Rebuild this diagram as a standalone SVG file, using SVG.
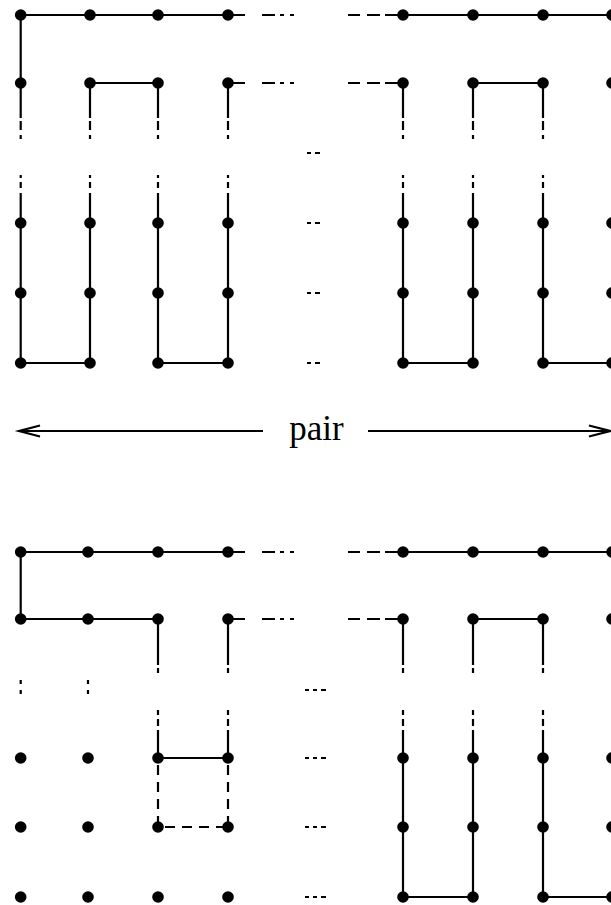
<svg xmlns="http://www.w3.org/2000/svg" width="611" height="905" viewBox="0 0 611 905">
<style>
.node circle{fill:#000}
.ln{stroke:#000;stroke-width:2.2;fill:none;stroke-linecap:butt}
.dash{stroke-dasharray:10 7}
.lbl{font-family:"Liberation Serif","Times New Roman",serif;font-size:35px;fill:#000}
</style>
<rect width="611" height="905" fill="#fff"/>
<g id="connectors">
<path class="ln" d="M20.7,15H228 M403,15H612 M20.7,15V83 M90,83H158 M473,83H543
M228,15H245 M262,15H275 M280,15H284 M290,15H294 M228,83H245 M262,83H275 M280,83H284 M290,83H294
M348,15H360 M367,15H380 M385,15H403 M348,83H360 M367,83H380 M385,83H403
M20.7,83V118 M20.7,121V130 M20.7,135V139 M90,83V118 M90,121V130 M90,135V139 M158,83V118 M158,121V130 M158,135V139 M228,83V118 M228,121V130 M228,135V139
M403,83V118 M403,121V130 M403,135V139 M473,83V118 M473,121V130 M473,135V139 M543,83V118 M543,121V130 M543,135V139
M20.7,175V178 M20.7,182V188 M20.7,193V223 M90,175V178 M90,182V188 M90,193V223 M158,175V178 M158,182V188 M158,193V223 M228,175V178 M228,182V188 M228,193V223
M403,175V178 M403,182V188 M403,193V223 M473,175V178 M473,182V188 M473,193V223 M543,175V178 M543,182V188 M543,193V223
M20.7,223V363 M90,223V363 M158,223V363 M228,223V363 M403,223V363 M473,223V363 M543,223V363
M20.7,363H90 M158,363H228 M403,363H473 M543,363H612
M307,153H311 M315,153H320 M307,223H311 M315,223H320 M307,293H311 M315,293H320 M307,363H311 M315,363H320"/>
<path class="ln" d="M19,431H263 M368,431H610 M40,425.5L19,431L40,436.5 M589,425.5L610,431L589,436.5"/>
<path class="ln" d="M20.7,552H228 M403,552H612 M20.7,552V619 M20.7,619H158 M473,619H543
M228,552H245 M262,552H275 M280,552H284 M290,552H294 M228,619H245 M262,619H275 M280,619H284 M290,619H294
M348,552H360 M367,552H380 M385,552H403 M348,619H360 M367,619H380 M385,619H403
M158,619V665 M158,668V673 M228,619V665 M228,668V673 M403,619V665 M403,668V673 M473,619V665 M473,668V673 M543,619V665 M543,668V673
M20.7,680V684 M20.7,690V694 M88,680V684 M88,690V694
M158,710V715 M158,719V726 M158,730V758 M228,710V715 M228,719V726 M228,730V758
M403,710V715 M403,719V726 M403,730V758 M473,710V715 M473,719V726 M473,730V758 M543,710V715 M543,719V726 M543,730V758
M158,758H228
M403,758V897 M473,758V897 M543,758V897
M403,897H473 M543,897H612
M305,690H309 M313,690H317 M321,690H326 M305,758H309 M313,758H317 M321,758H326 M305,827H309 M313,827H317 M321,827H326 M305,897H309 M313,897H317 M321,897H326"/>
<path class="ln dash" d="M158,765V827 M228,765V827 M165,827H228"/>
</g>
<text class="lbl" x="316.5" y="440" text-anchor="middle">pair</text>
<g id="t-1-1" class="node"><circle cx="20.7" cy="15" r="5.8"/></g>
<g id="t-1-2" class="node"><circle cx="90" cy="15" r="5.8"/></g>
<g id="t-1-3" class="node"><circle cx="158" cy="15" r="5.8"/></g>
<g id="t-1-4" class="node"><circle cx="228" cy="15" r="5.8"/></g>
<g id="t-1-5" class="node"><circle cx="403" cy="15" r="5.8"/></g>
<g id="t-1-6" class="node"><circle cx="473" cy="15" r="5.8"/></g>
<g id="t-1-7" class="node"><circle cx="543" cy="15" r="5.8"/></g>
<g id="t-1-8" class="node"><circle cx="612" cy="15" r="5.8"/></g>
<g id="t-2-1" class="node"><circle cx="20.7" cy="83" r="5.8"/></g>
<g id="t-2-2" class="node"><circle cx="90" cy="83" r="5.8"/></g>
<g id="t-2-3" class="node"><circle cx="158" cy="83" r="5.8"/></g>
<g id="t-2-4" class="node"><circle cx="228" cy="83" r="5.8"/></g>
<g id="t-2-5" class="node"><circle cx="403" cy="83" r="5.8"/></g>
<g id="t-2-6" class="node"><circle cx="473" cy="83" r="5.8"/></g>
<g id="t-2-7" class="node"><circle cx="543" cy="83" r="5.8"/></g>
<g id="t-2-8" class="node"><circle cx="612" cy="83" r="5.8"/></g>
<g id="t-3-1" class="node"><circle cx="20.7" cy="223" r="5.8"/></g>
<g id="t-3-2" class="node"><circle cx="90" cy="223" r="5.8"/></g>
<g id="t-3-3" class="node"><circle cx="158" cy="223" r="5.8"/></g>
<g id="t-3-4" class="node"><circle cx="228" cy="223" r="5.8"/></g>
<g id="t-3-5" class="node"><circle cx="403" cy="223" r="5.8"/></g>
<g id="t-3-6" class="node"><circle cx="473" cy="223" r="5.8"/></g>
<g id="t-3-7" class="node"><circle cx="543" cy="223" r="5.8"/></g>
<g id="t-3-8" class="node"><circle cx="612" cy="223" r="5.8"/></g>
<g id="t-4-1" class="node"><circle cx="20.7" cy="293" r="5.8"/></g>
<g id="t-4-2" class="node"><circle cx="90" cy="293" r="5.8"/></g>
<g id="t-4-3" class="node"><circle cx="158" cy="293" r="5.8"/></g>
<g id="t-4-4" class="node"><circle cx="228" cy="293" r="5.8"/></g>
<g id="t-4-5" class="node"><circle cx="403" cy="293" r="5.8"/></g>
<g id="t-4-6" class="node"><circle cx="473" cy="293" r="5.8"/></g>
<g id="t-4-7" class="node"><circle cx="543" cy="293" r="5.8"/></g>
<g id="t-4-8" class="node"><circle cx="612" cy="293" r="5.8"/></g>
<g id="t-5-1" class="node"><circle cx="20.7" cy="363" r="5.8"/></g>
<g id="t-5-2" class="node"><circle cx="90" cy="363" r="5.8"/></g>
<g id="t-5-3" class="node"><circle cx="158" cy="363" r="5.8"/></g>
<g id="t-5-4" class="node"><circle cx="228" cy="363" r="5.8"/></g>
<g id="t-5-5" class="node"><circle cx="403" cy="363" r="5.8"/></g>
<g id="t-5-6" class="node"><circle cx="473" cy="363" r="5.8"/></g>
<g id="t-5-7" class="node"><circle cx="543" cy="363" r="5.8"/></g>
<g id="t-5-8" class="node"><circle cx="612" cy="363" r="5.8"/></g>
<g id="b-1-1" class="node"><circle cx="20.7" cy="552" r="5.8"/></g>
<g id="b-1-2" class="node"><circle cx="88" cy="552" r="5.8"/></g>
<g id="b-1-3" class="node"><circle cx="158" cy="552" r="5.8"/></g>
<g id="b-1-4" class="node"><circle cx="228" cy="552" r="5.8"/></g>
<g id="b-1-5" class="node"><circle cx="403" cy="552" r="5.8"/></g>
<g id="b-1-6" class="node"><circle cx="473" cy="552" r="5.8"/></g>
<g id="b-1-7" class="node"><circle cx="543" cy="552" r="5.8"/></g>
<g id="b-1-8" class="node"><circle cx="612" cy="552" r="5.8"/></g>
<g id="b-2-1" class="node"><circle cx="20.7" cy="619" r="5.8"/></g>
<g id="b-2-2" class="node"><circle cx="88" cy="619" r="5.8"/></g>
<g id="b-2-3" class="node"><circle cx="158" cy="619" r="5.8"/></g>
<g id="b-2-4" class="node"><circle cx="228" cy="619" r="5.8"/></g>
<g id="b-2-5" class="node"><circle cx="403" cy="619" r="5.8"/></g>
<g id="b-2-6" class="node"><circle cx="473" cy="619" r="5.8"/></g>
<g id="b-2-7" class="node"><circle cx="543" cy="619" r="5.8"/></g>
<g id="b-2-8" class="node"><circle cx="612" cy="619" r="5.8"/></g>
<g id="b-3-1" class="node"><circle cx="20.7" cy="758" r="5.8"/></g>
<g id="b-3-2" class="node"><circle cx="88" cy="758" r="5.8"/></g>
<g id="b-3-3" class="node"><circle cx="158" cy="758" r="5.8"/></g>
<g id="b-3-4" class="node"><circle cx="228" cy="758" r="5.8"/></g>
<g id="b-3-5" class="node"><circle cx="403" cy="758" r="5.8"/></g>
<g id="b-3-6" class="node"><circle cx="473" cy="758" r="5.8"/></g>
<g id="b-3-7" class="node"><circle cx="543" cy="758" r="5.8"/></g>
<g id="b-3-8" class="node"><circle cx="612" cy="758" r="5.8"/></g>
<g id="b-4-1" class="node"><circle cx="20.7" cy="827" r="5.8"/></g>
<g id="b-4-2" class="node"><circle cx="88" cy="827" r="5.8"/></g>
<g id="b-4-3" class="node"><circle cx="158" cy="827" r="5.8"/></g>
<g id="b-4-4" class="node"><circle cx="228" cy="827" r="5.8"/></g>
<g id="b-4-5" class="node"><circle cx="403" cy="827" r="5.8"/></g>
<g id="b-4-6" class="node"><circle cx="473" cy="827" r="5.8"/></g>
<g id="b-4-7" class="node"><circle cx="543" cy="827" r="5.8"/></g>
<g id="b-4-8" class="node"><circle cx="612" cy="827" r="5.8"/></g>
<g id="b-5-1" class="node"><circle cx="20.7" cy="897" r="5.8"/></g>
<g id="b-5-2" class="node"><circle cx="88" cy="897" r="5.8"/></g>
<g id="b-5-3" class="node"><circle cx="158" cy="897" r="5.8"/></g>
<g id="b-5-4" class="node"><circle cx="228" cy="897" r="5.8"/></g>
<g id="b-5-5" class="node"><circle cx="403" cy="897" r="5.8"/></g>
<g id="b-5-6" class="node"><circle cx="473" cy="897" r="5.8"/></g>
<g id="b-5-7" class="node"><circle cx="543" cy="897" r="5.8"/></g>
<g id="b-5-8" class="node"><circle cx="612" cy="897" r="5.8"/></g>
</svg>
